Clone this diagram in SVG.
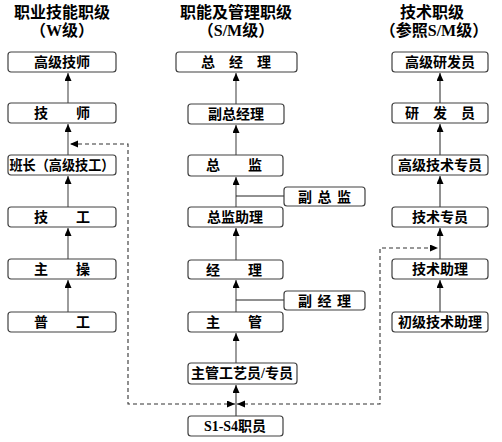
<svg xmlns="http://www.w3.org/2000/svg" width="502" height="442" viewBox="0 0 502 442">
<defs>
<style>
.box{fill:#fff;stroke:#404040;stroke-width:1.2}
.t{font-family:"Liberation Serif","Noto Sans CJK SC",serif;font-size:14px;font-weight:bold;fill:#000;text-anchor:middle}
.h{font-family:"Liberation Serif","Noto Sans CJK SC",serif;font-size:16px;font-weight:bold;fill:#000;text-anchor:middle}
.ln{stroke:#666;stroke-width:1.3;fill:none}
.sl{stroke:#222;stroke-width:1;fill:none}
.ds{stroke:#333;stroke-width:1.1;fill:none;stroke-dasharray:4,3}
</style>
<marker id="ah" markerUnits="userSpaceOnUse" markerWidth="9" markerHeight="8" refX="8" refY="3.5" orient="auto-start-reverse">
<path d="M0,0 L8,3.5 L0,7 z" fill="#000"/>
</marker>
</defs>
<rect width="502" height="442" fill="#fff"/>

<g id="titles">
<text class="h" x="62" y="18">职业技能职级</text>
<text class="h" x="62" y="36">（W级）</text>
<text class="h" x="236" y="18">职能及管理职级</text>
<text class="h" x="236" y="36">（S/M级）</text>
<text class="h" x="432" y="18">技术职级</text>
<text class="h" x="434" y="36">（参照S/M级）</text>
</g>

<g id="connectors">
<path class="ln" d="M68,103 V73" marker-end="url(#ah)"/>
<path class="ln" d="M68,155 V124" marker-end="url(#ah)"/>
<path class="ln" d="M68,207 V176" marker-end="url(#ah)"/>
<path class="ln" d="M68,259 V228" marker-end="url(#ah)"/>
<path class="ln" d="M68,312 V280" marker-end="url(#ah)"/>

<path class="ln" d="M236,104 V73" marker-end="url(#ah)"/>
<path class="ln" d="M236,155 V125" marker-end="url(#ah)"/>
<path class="ln" d="M236,207 V177" marker-end="url(#ah)"/>
<path class="ln" d="M236,260 V228" marker-end="url(#ah)"/>
<path class="ln" d="M236,312 V280" marker-end="url(#ah)"/>
<path class="ln" d="M236,363 V333" marker-end="url(#ah)"/>
<path class="sl" d="M236,416 V385" marker-end="url(#ah)"/>
<path class="sl" d="M236,196 H284"/>
<path class="sl" d="M236,300 H284"/>

<path class="sl" d="M440,103 V73" marker-end="url(#ah)"/>
<path class="sl" d="M440,155 V124" marker-end="url(#ah)"/>
<path class="sl" d="M440,207 V176" marker-end="url(#ah)"/>
<path class="sl" d="M440,259 V228" marker-end="url(#ah)"/>
<path class="sl" d="M440,312 V280" marker-end="url(#ah)"/>

<path class="ds" d="M235,404 H128 V144 H70" marker-start="url(#ah)" marker-end="url(#ah)"/>
<path class="ds" d="M237,404 H380 V248 H438" marker-start="url(#ah)" marker-end="url(#ah)"/>
</g>

<g id="n-gjjs"><rect class="box" x="8" y="52" width="108" height="20" rx="3"/><text class="t" x="62" y="67">高级技师</text></g>
<g id="n-js"><rect class="box" x="8" y="103" width="108" height="20" rx="3"/><text class="t" x="62" y="118">技　　师</text></g>
<g id="n-bz"><rect class="box" x="8" y="155" width="108" height="20" rx="3"/><text class="t" x="62" y="170" textLength="105" lengthAdjust="spacingAndGlyphs">班长（高级技工）</text></g>
<g id="n-jg"><rect class="box" x="8" y="207" width="108" height="20" rx="3"/><text class="t" x="62" y="222">技　　工</text></g>
<g id="n-zc"><rect class="box" x="8" y="259" width="108" height="20" rx="3"/><text class="t" x="62" y="274">主　　操</text></g>
<g id="n-pg"><rect class="box" x="8" y="312" width="108" height="20" rx="3"/><text class="t" x="62" y="327">普　　工</text></g>

<g id="n-zjl"><rect class="box" x="176" y="52" width="121" height="20" rx="3"/><text class="t" x="236" y="67">总　经　理</text></g>
<g id="n-fzjl"><rect class="box" x="188" y="104" width="96" height="20" rx="3"/><text class="t" x="236" y="119">副总经理</text></g>
<g id="n-zj"><rect class="box" x="188" y="155" width="95" height="21" rx="3"/><text class="t" x="234" y="170">总　　监</text></g>
<g id="n-fzj"><rect class="box" x="284" y="187" width="81" height="19" rx="3"/><text class="t" x="325" y="202" xml:space="preserve" letter-spacing="1">副 总 监</text></g>
<g id="n-zjzl"><rect class="box" x="188" y="207" width="95" height="20" rx="3"/><text class="t" x="235" y="222">总监助理</text></g>
<g id="n-jl"><rect class="box" x="188" y="260" width="95" height="19" rx="3"/><text class="t" x="234" y="275">经　　理</text></g>
<g id="n-fjl"><rect class="box" x="284" y="291" width="81" height="19" rx="3"/><text class="t" x="325" y="306" xml:space="preserve" letter-spacing="1">副 经 理</text></g>
<g id="n-zg"><rect class="box" x="188" y="312" width="95" height="20" rx="3"/><text class="t" x="234" y="327">主　　管</text></g>
<g id="n-zggy"><rect class="box" x="188" y="363" width="109" height="21" rx="3"/><text class="t" x="242" y="378">主管工艺员/专员</text></g>
<g id="n-s1s4"><rect class="box" x="188" y="416" width="95" height="20" rx="3"/><text class="t" x="235" y="431">S1-S4职员</text></g>

<g id="n-gjyfy"><rect class="box" x="392" y="52" width="96" height="20" rx="3"/><text class="t" x="440" y="67">高级研发员</text></g>
<g id="n-yfy"><rect class="box" x="392" y="103" width="96" height="20" rx="3"/><text class="t" x="440" y="118">研　发　员</text></g>
<g id="n-gjjszy"><rect class="box" x="392" y="155" width="96" height="20" rx="3"/><text class="t" x="440" y="170">高级技术专员</text></g>
<g id="n-jszy"><rect class="box" x="392" y="207" width="96" height="20" rx="3"/><text class="t" x="440" y="222">技术专员</text></g>
<g id="n-jszl"><rect class="box" x="392" y="259" width="96" height="20" rx="3"/><text class="t" x="440" y="274">技术助理</text></g>
<g id="n-cjjszl"><rect class="box" x="392" y="312" width="96" height="20" rx="3"/><text class="t" x="440" y="327">初级技术助理</text></g>
</svg>
